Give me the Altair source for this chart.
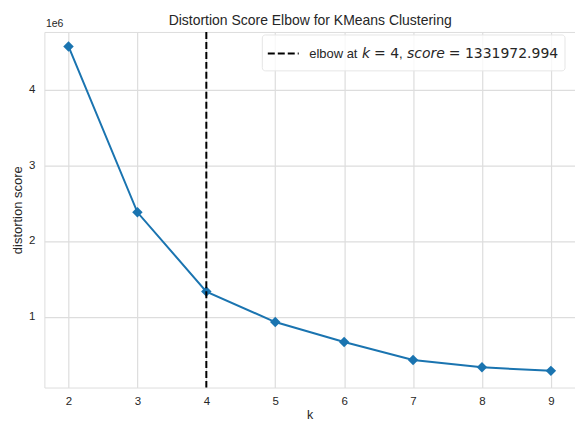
import altair as alt
import pandas as pd

k_values = [2, 3, 4, 5, 6, 7, 8, 9]
distortion = [4566000, 2378000, 1331972.994, 930000, 667000, 430000, 333000, 286000]
elbow_k = 4
elbow_score = 1331972.994
y_ticks = [1000000, 2000000, 3000000, 4000000]
x_ticks = k_values
title_text = "Distortion Score Elbow for KMeans Clustering"

df = pd.DataFrame({"k": k_values, "distortion": distortion})
elbow_df = pd.DataFrame({"k": [elbow_k]})

LINE = "#1a74b0"
FONT = "Liberation Sans"
MATH = "DejaVu Sans"
TXT = "#262626"

W, H = 532, 356.5

xscale = alt.Scale(domain=[1.65, 9.35], nice=False, zero=False)
yscale = alt.Scale(domain=[66000, 4757000], nice=False, zero=False)

xenc = alt.X("k:Q", scale=xscale,
             axis=alt.Axis(values=x_ticks, format="d", title="k", grid=True, domain=False, ticks=False,
                           labelPadding=8, labelFontSize=11.5, labelFont=FONT, labelColor=TXT,
                           titleFont=FONT, titleFontSize=12.5, titleFontWeight="normal", titleColor=TXT,
                           titleX=W / 2, titleY=31, titleBaseline="alphabetic",
                           gridColor="#dddddd", gridWidth=1.2))
yenc = alt.Y("distortion:Q", scale=yscale,
             axis=alt.Axis(values=y_ticks, labelExpr="format(datum.value / 1000000, 'd')",
                           title="distortion score", grid=True, domain=False, ticks=False,
                           labelPadding=9.5, labelFontSize=11.5, labelFont=FONT, labelColor=TXT,
                           titleFont=FONT, titleFontSize=13, titleFontWeight="normal", titleColor=TXT,
                           titleX=-22.5, titleY=H / 2, titleAngle=-90, titleAlign="center",
                           titleBaseline="alphabetic",
                           gridColor="#dddddd", gridWidth=1.2))

base = alt.Chart(df)
line = base.mark_line(color=LINE, strokeWidth=2).encode(x=xenc, y=yenc)
pts = base.mark_point(shape="diamond", filled=True, color=LINE, size=110, opacity=1).encode(
    x="k:Q", y="distortion:Q")

vline = alt.Chart(elbow_df).mark_rule(color="black", strokeWidth=2, strokeDash=[7, 3]).encode(
    x="k:Q")

one = alt.Data(values=[{"a": 1}])

legend_box = alt.Chart(one).mark_rect(fill="white", fillOpacity=0.8, stroke="#e6e6e6",
                                      strokeWidth=1, cornerRadius=3).encode(
    x=alt.value(218.5), x2=alt.value(522), y=alt.value(3), y2=alt.value(39))
legend_dash = alt.Chart(one).mark_rule(color="black", strokeWidth=2, strokeDash=[7, 3]).encode(
    x=alt.value(224), x2=alt.value(255), y=alt.value(21.5))


def txt(s, x, font, style="normal", size=14, y=26.5, align="left"):
    return alt.Chart(one).mark_text(align=align, baseline="alphabetic", font=font, fontSize=size,
                                    fontStyle=style, color=TXT).encode(
        x=alt.value(x), y=alt.value(y), text=alt.value(s))


pieces = [
    txt("elbow at", 265.5, FONT, size=13),
    txt("k", 318.5, MATH, "italic"),
    txt("= " + str(elbow_k), 330.5, MATH),
    txt(",", 355.5, FONT, size=13),
    txt("score", 363.5, MATH, "italic"),
    txt("= " + f"{elbow_score:.3f}", 405.5, MATH),
]

exp_text = txt("1e6", 1.5, FONT, size=10.5, y=-5)
title_mark = txt(title_text, W / 2 + 0.5, FONT, size=14, y=-7, align="center")

chart = alt.layer(line, pts, vline, legend_box, legend_dash, *pieces, exp_text, title_mark).properties(
    width=W, height=H,
    autosize=alt.AutoSizeParams(type="none"),
    padding={"left": 44.5, "top": 31.5, "right": 0, "bottom": 33},
).configure_view(stroke="#d0d0d0", strokeWidth=1.2).configure(background="white")

chart.save("out.html", embed_options={"renderer": "svg", "actions": False})
